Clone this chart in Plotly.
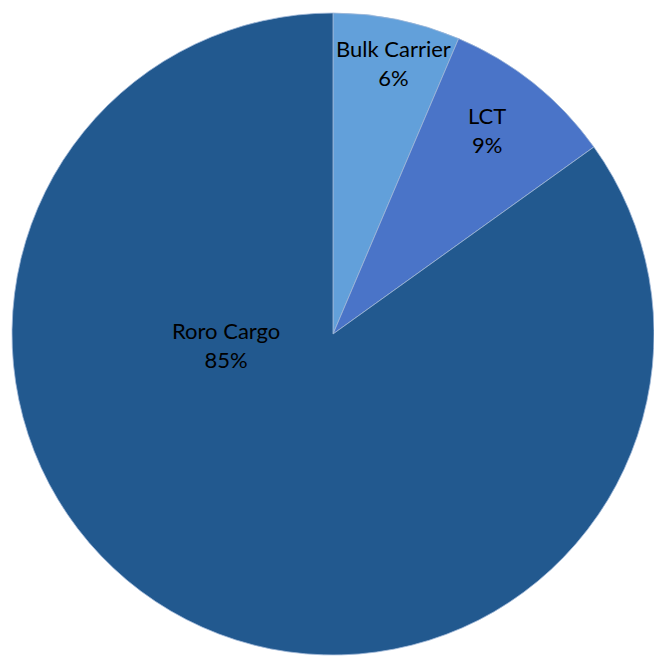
import plotly.graph_objects as go

labels = ["Bulk Carrier", "LCT", "Roro Cargo"]
values = [6.4, 8.7, 84.9]
colors = ["#62a0da", "#4a74c8", "#22598f"]

# label placement (paper coords), Excel best-fit style
label_x = [0.6024, 0.7446, 0.3456]
label_y = [0.9038, 0.8021, 0.4749]

total = sum(values)
fig = go.Figure(go.Pie(
    labels=labels,
    values=values,
    sort=False,
    direction="clockwise",
    rotation=0,
    marker=dict(colors=colors, line=dict(color="#9fb8d8", width=0.8)),
    textinfo="none",
    showlegend=False,
    hoverinfo="label+percent",
    domain=dict(x=[12 / 654, 1.0], y=[0.00304, 0.98021]),
))

for lab, v, x, y in zip(labels, values, label_x, label_y):
    fig.add_annotation(
        x=x, y=y, xref="paper", yref="paper",
        text=f"{lab}<br>{round(100 * v / total)}%",
        showarrow=False, xanchor="center", yanchor="middle",
        font=dict(family="Lato, Open Sans, sans-serif", size=22, color="#000000"),
    )

fig.update_layout(
    width=654, height=657,
    margin=dict(l=0, r=0, t=0, b=0),
    paper_bgcolor="white",
    plot_bgcolor="white",
)

fig.write_html(
    "out.html",
    config={"displayModeBar": False},
    post_script="document.body.style.margin='0';document.body.style.overflow='hidden';",
)
